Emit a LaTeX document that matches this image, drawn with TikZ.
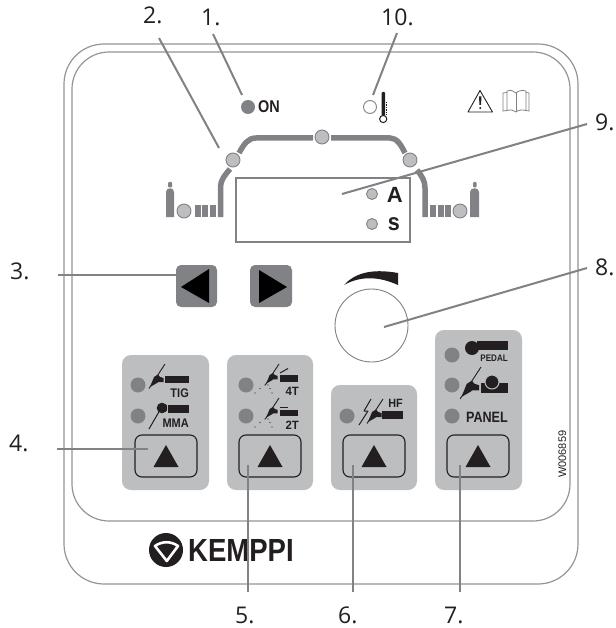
\documentclass[tikz,border=0pt]{standalone}
\usepackage{fontspec}
\setmainfont{Open Sans}
\newfontfamily\hv{Liberation Sans}
\definecolor{lng}{RGB}{128,130,133}
\definecolor{frm}{RGB}{147,149,152}
\definecolor{pan}{RGB}{188,190,192}
\definecolor{ink}{RGB}{35,31,32}
\tikzset{x=1pt,y=-1pt,
 frame/.style={draw=frm,line width=1.2pt},
 lead/.style={draw=lng,line width=2pt},
 callout/.style={font=\fontsize{23}{23}\selectfont,text=ink,inner sep=0pt,anchor=base west},
 panel/.style={fill=pan,rounded corners=9pt},
 btn/.style={draw=ink,line width=1.1pt,rounded corners=7pt},
 ledd/.style={circle,fill=lng,minimum size=15pt,inner sep=0pt},
 ledl/.style={circle,fill=pan,draw=lng,line width=0.9pt,minimum size=14pt,inner sep=0pt},
 ledm/.style={circle,fill=pan,draw=lng,line width=0.9pt,minimum size=11pt,inner sep=0pt},
 lab/.style={font=\hv\bfseries\fontsize{#1}{#1}\selectfont,text=ink,inner sep=0pt,anchor=base east},
 gasline/.style={draw=lng,line width=5.5pt},
 gasblk/.style={fill=lng}}
\newcommand{\torch}[3]{%
 \begin{scope}[shift={(#1,#2)},scale=#3]
 \fill[ink] (-15,23) -- (-11,13) -- (-7,10.5) -- (-3.5,15) -- (-8,19) -- cycle;
 \fill[ink] (-8,12) -- (-1.5,14) -- (-1.5,18) -- (-7,18) -- cycle;
 \draw[ink,line width=.9pt] (-16,24.5) -- (0,0);
 \end{scope}}
\newcommand{\spray}[2]{%
 \fill[ink] (#1-11,#2+8.5) circle (.65) (#1-6,#2+4) circle (.65) (#1-1,#2+.5) circle (.65)
            (#1+2,#2+.5) circle (.65) (#1+4,#2+4) circle (.65) (#1+6,#2+8.5) circle (.65);}
\begin{document}
\begin{tikzpicture}
\useasboundingbox (0,0) rectangle (615,628);
\fill[white] (0,0) rectangle (615,628);
% frames
\draw[frame,rounded corners=40pt] (64,44) rectangle (578,584);
\draw[frame,rounded corners=37pt] (72,52) rectangle (570,521);
% panels
\fill[panel] (122,355) rectangle (209,490);
\fill[panel] (227,355) rectangle (313,490);
\fill[panel] (331,385) rectangle (417,490);
\fill[panel] (435,330) rectangle (522,490);
% buttons
\foreach \cx in {166,270,374,478}{
 \draw[btn] (\cx-31,435) rectangle (\cx+31,477);
 \fill[ink] (\cx-12.5,467) -- (\cx,445) -- (\cx+12.5,467) -- cycle;
}
% panel 1
\node[ledd] (l1) at (138,385) {};
\node[ledd] (l2) at (138,416) {};
\torch{165}{364}{1}
\fill[ink] (165,376) rectangle (189,383);
\node[lab=12.5,xscale=.88] (tig) at (189,397) {TIG};
\fill[ink] (162,408) circle (5.3);
\fill[ink] (162,405) rectangle (167,411);
\fill[ink] (168,405) rectangle (189,413);
\draw[ink,line width=1pt] (149,429) -- (160,410);
\node[lab=12.5,xscale=.88] (mma) at (189,427) {MMA};
% panel 2
\node[ledd] (l3) at (246,385) {};
\node[ledd] (l4) at (246,416) {};
\torch{279}{364}{.85}
\spray{266}{384.5}
\fill[ink] (280,375) rectangle (298,382);
\draw[ink,line width=1pt] (280,373) -- (288,368.5);
\node[lab=12,xscale=.95] (t4) at (299,395) {4T};
\torch{279}{398}{.85}
\spray{266}{418.5}
\fill[ink] (280,410) rectangle (298,416);
\draw[ink,line width=1pt] (280,407) -- (288,407);
\node[lab=12,xscale=.95] (t2) at (299,429) {2T};
% panel 3
\node[ledd] (l5) at (347,416) {};
\draw[ink,line width=1pt,line join=bevel] (371,399) -- (364,411) -- (368,411) -- (359,425);
\torch{383}{399}{1}
\fill[ink] (382,411) rectangle (403,419);
\node[lab=12,xscale=.9] (hf) at (403,407) {HF};
% panel 4
\node[ledd] (l6) at (452,355) {};
\node[ledd] (l7) at (452,385) {};
\node[ledd] (l8) at (452,416) {};
\fill[ink] (472,348) circle (7);
\fill[ink] (477,341) rectangle (508,350);
\node[lab=9.5,xscale=.85] (ped) at (508,361) {PEDAL};
\torch{481}{367}{1.3}
\fill[ink] (481,383) rectangle (508,393);
\filldraw[fill=ink,draw=pan,line width=1pt] (492,382) circle (7);
\node[lab=15,xscale=.84] (pnl) at (508,422) {PANEL};
% code
\node[rotate=90,font=\hv\fontsize{11}{11}\selectfont,text=ink,inner sep=0pt,anchor=base west] (code) at (566,478) {W006859};
% arrows
\fill[lng,rounded corners=5pt] (176,265) rectangle (217,307);
\fill[black] (209,269) -- (209,303) -- (181,287) -- cycle;
\fill[lng,rounded corners=5pt] (250,265) rectangle (292,307);
\fill[black] (259,270) -- (259,303) -- (287,287) -- cycle;
% knob
\node[circle,draw=lng,line width=.9pt,minimum size=73pt,inner sep=0pt,fill=white] (knob) at (371.5,325.5) {};
\fill[ink] (344,285) .. controls (354,274) and (370,268) .. (398,273) -- (398,285) .. controls (378,276) and (360,276) .. (344,285) -- cycle;
% gas
\draw[gasline] (220.5,217) -- (220.5,187) .. controls (220.5,180) and (225,175) .. (230,169);
\draw[gasline] (239,153) .. controls (244,144) and (248,138) .. (256,138) -- (313,138);
\draw[gasline] (331,138) -- (390,138) .. controls (397,138) and (401,145) .. (405,153);
\draw[gasline] (417,170) .. controls (422,176) and (425,181) .. (425,188) -- (425,217);
\foreach \x in {195,202,210,430,437.5,445}{\fill[gasblk] (\x,205) rectangle (\x+6,217);}
\fill[gasblk] (166,217) -- (166,192) .. controls (166,187) and (174,187) .. (174,192) -- (174,217) -- cycle;
\fill[gasblk,rounded corners=1pt] (168,182) rectangle (172,187.5);
\fill[gasblk] (470,217) -- (470,192) .. controls (470,187) and (479,187) .. (479,192) -- (479,217) -- cycle;
\fill[gasblk,rounded corners=1pt] (473,182) rectangle (476.5,187.5);
\node[ledl] (g1) at (184,211) {};
\node[ledl] (g2) at (233,160) {};
\node[ledl] (g3) at (322,137) {};
\node[ledl] (g4) at (410,160) {};
\node[ledl] (g5) at (460,211) {};
% display
\draw[draw=lng,line width=1.2pt] (236,178) rectangle (410,242);
\node[ledm] (la) at (372,194) {};
\node[ledm] (ls) at (372,224) {};
\node[lab=22] (A) at (403,203) {A};
\node[lab=24,xscale=.9] (s) at (400,230) {s};
% on
\node[ledd,minimum size=14pt] (on) at (248,107) {};
\node[lab=17,xscale=.85,anchor=base west] (ontxt) at (258,113) {ON};
% thermo
\node[circle,draw=lng,line width=.9pt,minimum size=13pt,inner sep=0pt] (th) at (370,107) {};
\fill[ink,rounded corners=1pt] (381.5,92) rectangle (385,116);
\draw[ink,line width=.8pt,dash pattern=on .7pt off 1pt] (386,102) -- (386,114);
\draw[ink,line width=1pt,fill=white] (383.2,119) circle (3.6);
% warning + book
\draw[ink,line width=.9pt,line join=round] (468,112) -- (480,90.5) -- (492.5,112) -- cycle;
\fill[ink] (479,96.5) -- (481.5,96.5) -- (481,105) -- (479.5,105) -- cycle;
\fill[ink] (480.2,108) circle (1.1);
\begin{scope}[draw=lng,line width=.8pt]
\draw (503,93) -- (503,111) -- (507,110.5) (503,93) -- (507,92.5);
\draw (507,91) -- (507,110.5) .. controls (511,109.5) and (514,110) .. (516,112) .. controls (518,110) and (522,109.5) .. (526,110.5) -- (526,91) .. controls (522,90) and (518,90.5) .. (516,93) .. controls (514,90.5) and (511,90) .. (507,91);
\draw (516,93) -- (516,112);
\draw (526,92.5) -- (529,93) -- (529,111) -- (526,110.5);
\end{scope}
% logo
\fill[ink] (166,550) circle (17);
\draw[white,line width=2.6pt,line join=round] (155,546) .. controls (162,541) and (171,541) .. (178,546) -- (166.8,561) -- cycle;
\node[inner sep=0pt,font=\hv\bfseries\fontsize{32}{32}\selectfont,text=ink,anchor=base west,xscale=.86] (kemp) at (188,561) {KEMPPI};
% callouts
\coordinate (c2) at (219,148);
\coordinate (c1) at (242,95);
\coordinate (c10) at (373,95);
\coordinate (c9) at (342,194);
\coordinate (c3) at (176,275);
\coordinate (c8) at (384,327);
\coordinate (c4) at (148,449);
\coordinate (c5) at (248,465);
\coordinate (c6) at (353,465);
\coordinate (c7) at (460,465);
\node[callout] (n2) at (143,24) {2.};
\node[callout] (n1) at (201,26) {1.};
\node[callout] (n10) at (381,26) {10.};
\node[callout] (n9) at (595,131) {9.};
\node[callout] (n3) at (10,279) {3.};
\node[callout] (n8) at (595,275) {8.};
\node[callout] (n4) at (9,451) {4.};
\node[callout] (n5) at (235,623) {5.};
\node[callout] (n6) at (338,623) {6.};
\node[callout] (n7) at (444,623) {7.};
\coordinate (s2) at (159,38);
\coordinate (s1) at (213,34);
\coordinate (s10) at (397,33);
\coordinate (s9) at (587,124);
\coordinate (s3) at (58,275);
\coordinate (s8) at (587,268);
\coordinate (s4) at (57,449);
\coordinate (s5) at (248,592);
\coordinate (s6) at (353,592);
\coordinate (s7) at (460,592);
\foreach \a/\b in {s2/c2,s1/c1,s10/c10,s9/c9,s3/c3,s8/c8,s4/c4,s5/c5,s6/c6,s7/c7}{\draw[lead] (\a) -- (\b);}
\end{tikzpicture}
\end{document}
